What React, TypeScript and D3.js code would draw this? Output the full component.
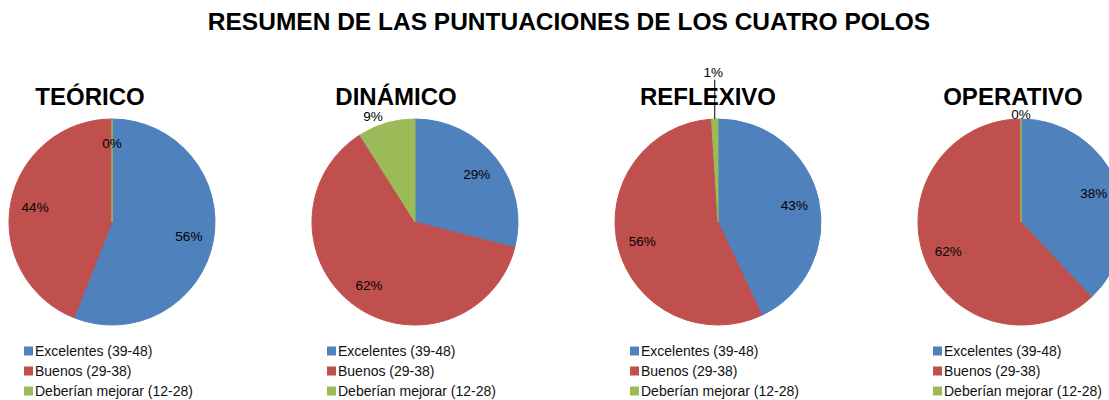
import * as d3 from 'd3';

// chart data
const poles = ['TEÓRICO', 'DINÁMICO', 'REFLEXIVO', 'OPERATIVO'];
const categories = ['Excelentes (39-48)', 'Buenos (29-38)', 'Deberían mejorar (12-28)'];
const excelentes = [56, 29, 43, 38];
const buenos = [44, 62, 56, 62];
const deberian = [0, 9, 1, 0];

const colors = ['#4F81BD', '#C0504D', '#9BBB59'];
// where each pole puts the small (green) label: share of the radius, turn in degrees
const smallLabelR = [0.76, 1.1, 1.45, 1.05];
const smallLabelTurn = [0, -5.5, 0, 0];
const titleShift = [-22, -19, -10, -8];

const W = 1109,
	H = 400;
const R = 103;
const cy = 222;
const font = "'Liberation Sans', Arial, sans-serif";

const x = d3.scalePoint<string>().domain(poles).range([112, 1021]);

const pie = d3
	.pie<number>()
	.sort(null)
	.value((d) => d);
const arc = d3.arc<d3.PieArcDatum<number>>().innerRadius(0).outerRadius(R);

const PolePie = ({ pole, i }: { pole: string; i: number }) => {
	const vals = [excelentes[i], buenos[i], deberian[i]];
	const arcs = pie(vals);
	const cx = x(pole) as number;
	return (
		<g>
			<text
				x={cx + titleShift[i]}
				y={105}
				textAnchor='middle'
				fontFamily={font}
				fontWeight='bold'
				fontSize={24}
				fill='#000'
			>
				{pole}
			</text>
			<g transform={`translate(${cx},${cy})`}>
				{arcs.map((a, k) => (
					<path
						key={k}
						d={arc(a) as string}
						fill={colors[k]}
						stroke={colors[k]}
						strokeWidth={1}
					/>
				))}
				{arcs.map((a, k) => {
					const mid = (a.startAngle + a.endAngle) / 2;
					const f = k === 2 ? smallLabelR[i] : 0.76;
					const ang = k === 2 ? mid + (smallLabelTurn[i] * Math.PI) / 180 : mid;
					const lx = Math.sin(ang) * R * f;
					const ly = -Math.cos(ang) * R * f;
					const leader = f > 1.3;
					return (
						<g key={'l' + k}>
							{leader && (
								<line
									x1={Math.sin(mid) * R}
									y1={-Math.cos(mid) * R}
									x2={Math.sin(mid) * R}
									y2={ly + 7}
									stroke='#000'
									strokeWidth={1}
								/>
							)}
							<text
								x={lx}
								y={ly}
								dy='0.35em'
								textAnchor='middle'
								fontFamily={font}
								fontSize={13.5}
								fill='#000'
							>
								{a.data}%
							</text>
						</g>
					);
				})}
			</g>
			<g transform={`translate(${cx - 88},${351})`}>
				{categories.map((c, k) => (
					<g key={c} transform={`translate(0,${k * 20})`}>
						<rect x={0} y={-4.5} width={9} height={9} fill={colors[k]} />
						<text
							x={11}
							y={0}
							dy='0.35em'
							fontFamily={font}
							fontSize={14}
							fill='#111'
						>
							{c}
						</text>
					</g>
				))}
			</g>
		</g>
	);
};

const App = () => {
	return (
		<svg
			width={W}
			height={H}
			style={{ position: 'absolute', left: 0, top: 0, background: '#fff' }}
		>
			<text
				x={569}
				y={30}
				textAnchor='middle'
				fontFamily={font}
				fontWeight='bold'
				fontSize={24.5}
				fill='#000'
			>
				RESUMEN DE LAS PUNTUACIONES DE LOS CUATRO POLOS
			</text>
			{poles.map((p, i) => (
				<PolePie key={p} pole={p} i={i} />
			))}
		</svg>
	);
};

export default App;
